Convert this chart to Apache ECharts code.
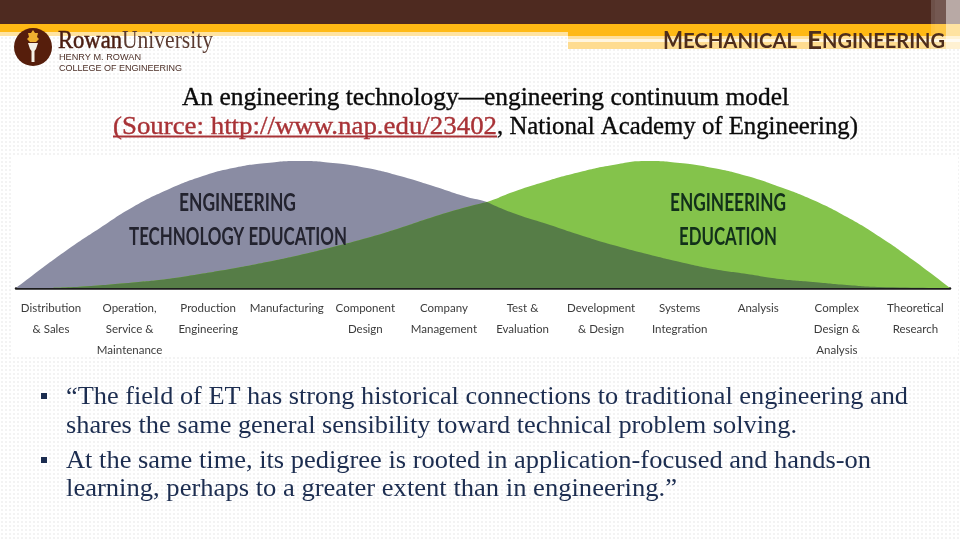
<!DOCTYPE html>
<html>
<head>
<meta charset="utf-8">
<script src="https://cdn.jsdelivr.net/npm/echarts@6/dist/echarts.min.js"></script>
<style>
html,body{margin:0;padding:0;width:960px;height:540px;overflow:hidden;background-color:#fff;
background-image:radial-gradient(circle,#f3f3f3 0.8px,transparent 1px);background-size:4px 4px;}
#c{width:960px;height:540px;}
</style>
</head>
<body>
<div id="c"></div>
<script>
// Data
const categories = ['Distribution\n& Sales','Operation,\nService &\nMaintenance','Production\nEngineering','Manufacturing','Component\nDesign','Company\nManagement','Test &\nEvaluation','Development\n& Design','Systems\nIntegration','Analysis','Complex\nDesign &\nAnalysis','Theoretical\nResearch'];
const technologyX = [0,17,51,84,117,151,184,217,251,284,317,351,384,417,451,471,497,531,564,597,631,664,697,731,764,797,831,864,934];
const technologyY = [0,13,38,60,81,98,111,120,125,127,125,120,112,102,91,86,75,64,53,43,34,26,19,14,9,6,3,1,0];
const engineeringX = [34,67,117,151,184,217,251,284,317,351,384,417,451,471,497,531,564,597,631,664,697,731,764,797,831,864,897,934];
const engineeringY = [0,1.5,5.5,9,14,19.5,26,33,41,50,60,71,81,86,96,107,116,123,127,125,120,112,101,88,71,51,28,0];
const crossingX = 471;
const titleLines = ['An engineering technology—engineering continuum model','(Source: http://www.nap.edu/23402',', National Academy of Engineering)'];
const bulletLines = ['“The field of ET has strong historical connections to traditional engineering and','shares the same general sensibility toward technical problem solving.','At the same time, its pedigree is rooted in application-focused and hands-on','learning, perhaps to a greater extent than in engineering.”'];

const zip = (xs, ys) => xs.map((x, i) => [x, ys[i]]);
const techPts = zip(technologyX, technologyY);
const engPts = zip(engineeringX, engineeringY);
const overlapLeft = engPts.slice(0, engineeringX.indexOf(crossingX) + 1);
const overlapRight = techPts.slice(technologyX.indexOf(crossingX));

const ctx = document.createElement('canvas').getContext('2d');
function text(x, y, str, font, fill, targetW, strokeW) {
  ctx.font = font;
  const w = ctx.measureText(str).width;
  const style = {x:0, y:0, text:str, font, fill, textVerticalAlign:'middle', textAlign:'left'};
  if (strokeW) { style.stroke = fill; style.lineWidth = strokeW; }
  return {type:'text', x, y, z:20, silent:true, scaleX: targetW ? targetW / w : 1, style};
}
function rect(x, y, w, h, fill, z) {
  return {type:'rect', silent:true, z: z === undefined ? 1 : z, shape:{x, y, width:w, height:h}, style:{fill}};
}
const serif = '"Liberation Serif"';
const navy = '#1c2d50';
const cond = 'Lato';
const brown = '#4e2a20';
const graphics = [
  rect(12,155,946,200,'#ffffff',-5),
  rect(0,0,960,24,brown),
  rect(0,24,568,8,'#ffb914'),
  rect(0,32,568,4,'#ffe3a0'),
  rect(568,24,392,12,'#ffb914'),
  rect(568,36,392,3,'#ffe09a'),
  rect(568,39,392,3,'#fff6e0'),
  rect(568,42,392,7,'#fedc90'),
  rect(931,0,4,49,'rgba(255,255,255,0.18)',2),
  rect(935,0,11,49,'rgba(255,255,255,0.22)',2),
  rect(946,0,14,49,'rgba(255,255,255,0.6)',2),
  {type:'circle', silent:true, z:3, shape:{cx:33,cy:47,r:19}, style:{fill:'#561e0c'}},
  {type:'polygon', silent:true, z:4, shape:{points:[[33,30],[35,33],[38,33],[37,37],[39,39],[36,42],[30,42],[27,39],[29,37],[28,33],[31,33]]}, style:{fill:'#eeb030'}},
  {type:'polygon', silent:true, z:4, shape:{points:[[28,43],[38,43],[36,49],[34.5,51],[34.5,62],[31.5,62],[31.5,51],[30,49]]}, style:{fill:'#f5f0e6'}},
  text(58,41,'Rowan','25px '+serif,'#4a1c10',64,0.5),
  text(122,41,'University','25px '+serif,'#5a3a30',91),
  text(59,58,'HENRY M. ROWAN','9px "Liberation Sans"','#4d3028',82),
  text(59,69,'COLLEGE OF ENGINEERING','9px "Liberation Sans"','#4d3028',123),
  text(663,41,'M','bold 25px Lato','#4e2d1c',20),
  text(683,42,'ECHANICAL','bold 20px Lato','#4e2d1c',114),
  text(807,41,'E','bold 25px Lato','#4e2d1c',15),
  text(822,42,'NGINEERING','bold 20px Lato','#4e2d1c',123),
  text(182,98,titleLines[0],'25px '+serif,'#0a0a0a',607,0.35),
  text(113,127,titleLines[1],'25px '+serif,'#a83236',384,0.35),
  rect(113,135.5,384,2,'#a83236'),
  text(497,127,titleLines[2],'25px '+serif,'#0a0a0a',361,0.35),
  rect(41,393,6,6,navy),
  rect(41,457,6,6,navy),
  text(66,397,bulletLines[0],'26px '+serif,navy,842),
  text(66,426,bulletLines[1],'26px '+serif,navy,731),
  text(66,461,bulletLines[2],'26px '+serif,navy,805),
  text(66,489,bulletLines[3],'26px '+serif,navy,611),
  text(179,203,'ENGINEERING','bold 25px '+cond,'#23232f',117),
  text(129,237,'TECHNOLOGY EDUCATION','bold 25px '+cond,'#23232f',218),
  text(670,203,'ENGINEERING','bold 25px '+cond,'#12301a',116),
  text(679,237,'EDUCATION','bold 25px '+cond,'#12301a',98)
];

const area = (name, data, fill) => ({
  name, type:'line', data, smooth:0.5, showSymbol:false, silent:true,
  lineStyle:{width:0}, areaStyle:{color:fill, opacity:1}, xAxisIndex:0, yAxisIndex:0
});

const chart = echarts.init(document.getElementById('c'), null, {renderer:'canvas'});
chart.setOption({
  animation:false,
  backgroundColor:'transparent',
  grid:[
    {left:16, top:158, width:934, height:130},
    {left:11.7, top:158, width:943, height:130}
  ],
  xAxis:[
    {type:'value', gridIndex:0, min:0, max:934, splitLine:{show:false}, axisTick:{show:false}, axisLabel:{show:false},
     axisLine:{show:true, onZero:false, lineStyle:{color:'#1c1c1c', width:2.5}}},
    {type:'category', gridIndex:1, data:categories, boundaryGap:true, axisLine:{show:false}, axisTick:{show:false},
     axisLabel:{interval:0, margin:10, color:'#3c3c3c', fontFamily:'Lato', fontSize:11.5, lineHeight:21, hideOverlap:false}}
  ],
  yAxis:[
    {type:'value', gridIndex:0, min:0, max:130, show:false},
    {type:'value', gridIndex:1, min:0, max:130, show:false}
  ],
  series:[
    area('Engineering Technology Education', techPts, '#8a8ca3'),
    area('Engineering Education', engPts, '#84c34b'),
    area('Overlap (rising)', overlapLeft, '#567d47'),
    area('Overlap (falling)', overlapRight, '#567d47')
  ],
  graphic:{elements:graphics}
});
</script>
</body>
</html>
